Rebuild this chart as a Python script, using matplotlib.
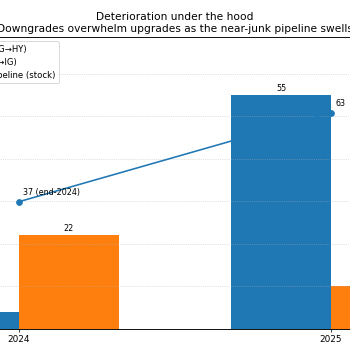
import numpy as np
import matplotlib
matplotlib.use('Agg')
import matplotlib.pyplot as plt

years = ['2024', '2025']
downgrades = [4, 55]
upgrades = [22, 10]
pipeline = [37, 63]
pipeline_labels = ['37 (end-2024)', '63']

x = np.arange(len(years))
w = 0.32

fig = plt.figure(figsize=(350 / 64, 350 / 64), dpi=64)
ax = fig.add_axes([-0.304, 0.0614, 1.608, 0.833])

b1 = ax.bar(x - w / 2, downgrades, w, color='#1f77b4', label='IG downgrades (IG\u2192HY)')
b2 = ax.bar(x + w / 2, upgrades, w, color='#ff7f0e', label='HY upgrades (HY\u2192IG)')
ax.bar_label(b1, padding=3, fontsize=9)
ax.bar_label(b2, padding=3, fontsize=9)
ax.set_ylim(0, max(downgrades) * 1.25)
ax.set_xticks(x)
ax.set_xticklabels(years, fontsize=10)
ax.grid(axis='y', linestyle=':', alpha=0.7)
ax.set_ylabel('Number of issuers')

ax2 = ax.twinx()
ln, = ax2.plot(x, pipeline, marker='o', color='#1f77b4', linewidth=1.8,
               markersize=6.5, label='Near-junk BBB pipeline (stock)')
for xi, yi, t in zip(x, pipeline, pipeline_labels):
    ax2.annotate(t, (xi, yi), xytext=(5, 5), textcoords='offset points',
                 ha='left', va='bottom', fontsize=9)
ax2.set_ylim(0, max(pipeline) * 1.35)
ax2.set_ylabel('Pipeline ($bn)')

handles = [b1, b2, ln]
ax.legend(handles, [h.get_label() for h in handles], loc='upper left', fontsize=9.5)

ax.set_title('Deterioration under the hood\n'
             'Downgrades overwhelm upgrades as the near-junk pipeline swells',
             fontsize=12)

fig.savefig('out.png', dpi=64)
